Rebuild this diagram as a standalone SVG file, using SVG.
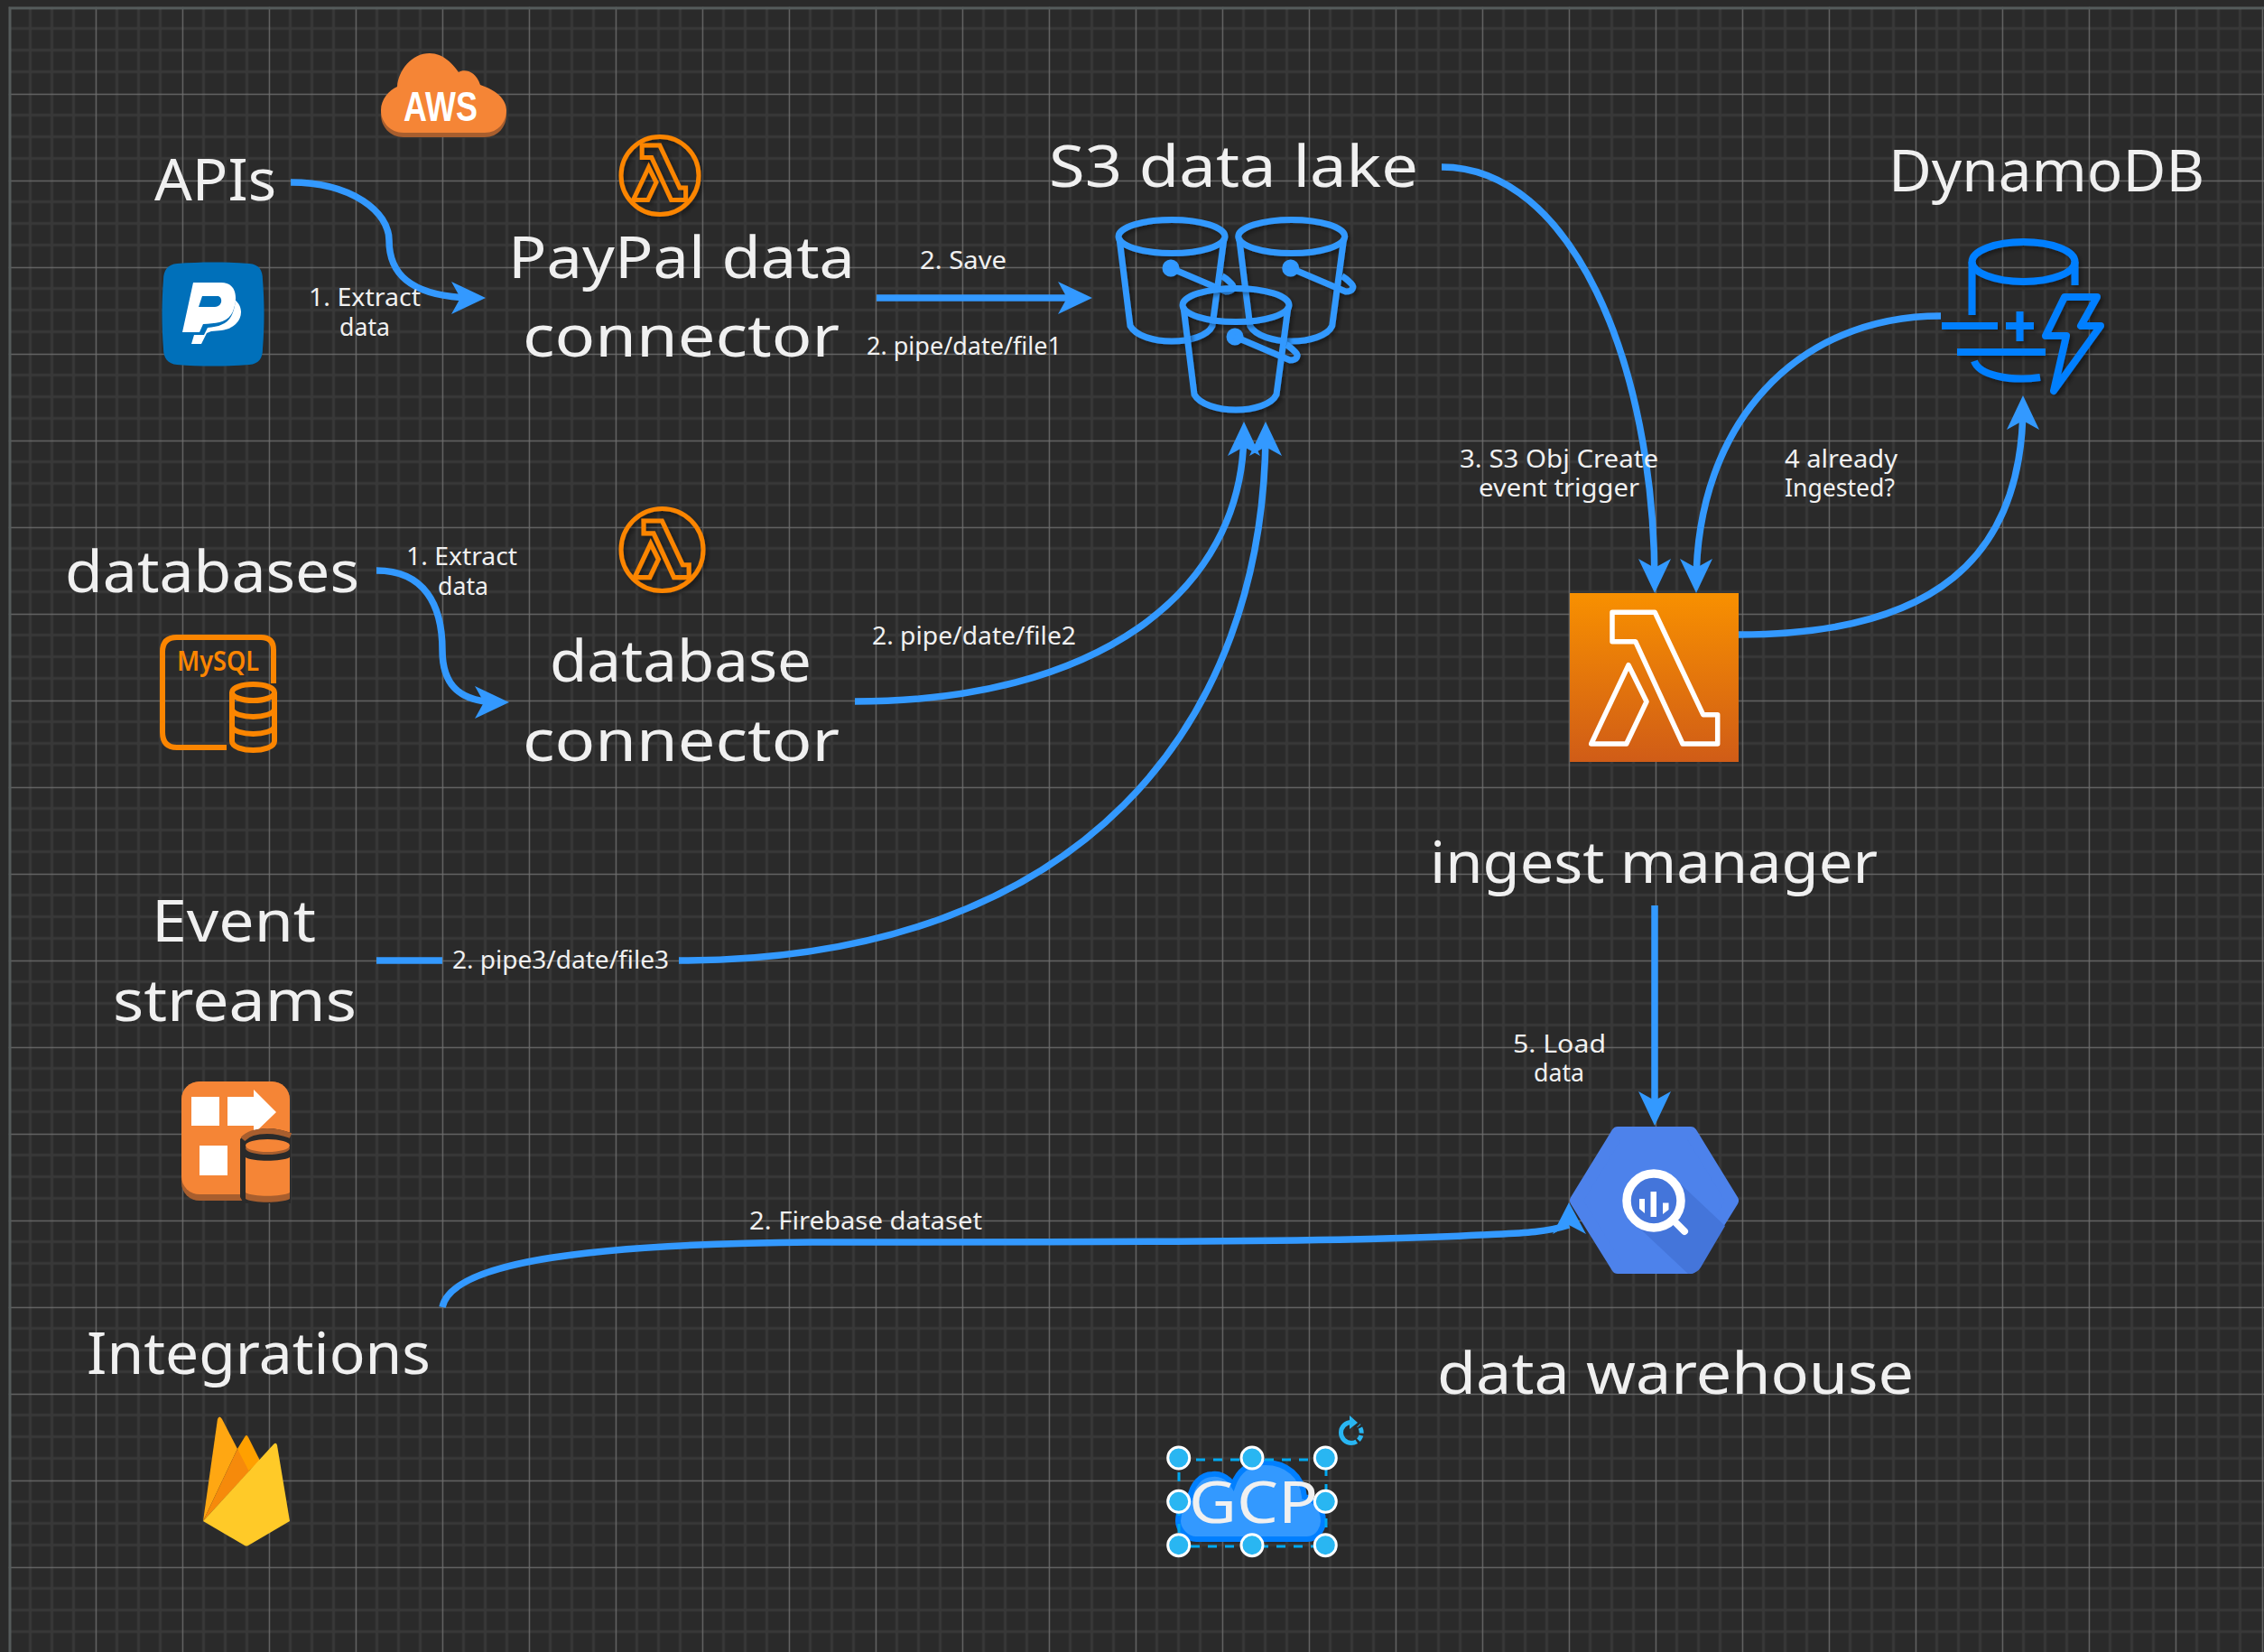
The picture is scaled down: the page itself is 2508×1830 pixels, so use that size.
<svg xmlns="http://www.w3.org/2000/svg" width="2508" height="1830" viewBox="0 0 2508 1830">
<style>
text{font-family:"Noto Sans","Open Sans",sans-serif;fill:#f0f0f0}
.big{font-size:64px}
.small{font-size:27px}
.conn{fill:none;stroke:#3399ff;stroke-width:7.5}
.end{marker-end:url(#arrow)}
.bucket{fill:none;stroke:#3399ff;stroke-width:7}
.dyn{fill:none;stroke:#007fff;stroke-width:8}
.mysql{fill:none;stroke:#fb8500;stroke-width:6}
.lam{fill:none;stroke:#fb8500;stroke-linejoin:miter}
.handle{fill:#29b6f2;stroke:#fff;stroke-width:3}
.shadow{filter:url(#sh)}
</style>
<defs>
<pattern id="grid" patternUnits="userSpaceOnUse" x="9.75" y="7.75" width="96" height="96">
<rect x="22.25" y="0" width="3" height="96" fill="#383838"/><rect x="46.25" y="0" width="3" height="96" fill="#383838"/><rect x="70.25" y="0" width="3" height="96" fill="#383838"/>
<rect x="0" y="22.25" width="96" height="3" fill="#383838"/><rect x="0" y="46.25" width="96" height="3" fill="#383838"/><rect x="0" y="70.25" width="96" height="3" fill="#383838"/>
<rect x="0" y="0" width="1.25" height="96" fill="#6e6e6e"/><rect x="0" y="0" width="96" height="1.25" fill="#6e6e6e"/>
</pattern>
<marker id="arrow" markerUnits="userSpaceOnUse" markerWidth="38" markerHeight="36" viewBox="0 0 38 36" refX="28" refY="18" orient="auto"><path d="M38 18L0 0L10 18L0 36Z" fill="#3399ff"/></marker>
<filter id="sh" x="-20%" y="-20%" width="140%" height="140%"><feDropShadow dx="3" dy="3" stdDeviation="2" flood-color="#000" flood-opacity="0.35"/></filter>
<linearGradient id="lg" x1="0" y1="0" x2="0" y2="1"><stop offset="0" stop-color="#f89000"/><stop offset="1" stop-color="#d05c17"/></linearGradient>
<path id="lambda" d="M23.3 0H70.6L124 113.4H140V145.7H101.3L49 32.4H23.3ZM41.3 58.4L61.3 99L39 145.7H0Z"/>
<g id="bucket" class="bucket">
<ellipse cx="1298" cy="262" rx="59" ry="18.5"/>
<path d="M1240 264L1252 361C1258 372 1278 378 1298 378C1318 378 1338 372 1343 361L1356 264"/>
<circle cx="1297" cy="297" r="6" fill="#3399ff"/>
<path d="M1297 297L1358 323C1366 323 1368 318 1364 314C1361 311 1356 307 1354 306"/>
</g>
</defs>
<rect width="2508" height="1830" fill="#2a2a2a"/>
<rect x="9.75" y="7.75" width="2499" height="1823" fill="url(#grid)"/>
<path d="M11 1830V9H2508" fill="none" stroke="#555b5b" stroke-width="3"/>

<g id="icon-aws">
<path transform="translate(0 5)" fill="#a85e2e" d="M447 147C432 147 422 135 422 122C422 110 431 100 440 96C441 78 456 59 476 59C491 59 502 71 508 80C514 76 527 78 532 94C550 100 561 110 561 122C561 135 552 147 537 147Z"/>
<path fill="#f58536" d="M447 147C432 147 422 135 422 122C422 110 431 100 440 96C441 78 456 59 476 59C491 59 502 71 508 80C514 76 527 78 532 94C550 100 561 110 561 122C561 135 552 147 537 147Z"/>
<text x="447" y="134" textLength="82" lengthAdjust="spacingAndGlyphs" style="font-family:'Liberation Sans',sans-serif;font-size:46px;font-weight:700;fill:#fff">AWS</text>
</g>

<g id="icon-lambda-paypal" class="shadow">
<circle cx="731" cy="194.500" r="43" fill="none" stroke="#fb8500" stroke-width="5"/>
<use href="#lambda" transform="translate(701.500 161) scale(.415)" class="lam" stroke-width="12"/>
</g>
<g id="icon-lambda-database" class="shadow">
<circle cx="733.500" cy="609" r="45.500" fill="none" stroke="#fb8500" stroke-width="5"/>
<use href="#lambda" transform="translate(703 577) scale(.43)" class="lam" stroke-width="12"/>
</g>

<g id="icon-paypal">
<path fill="#0070ba" d="M196 292C222 290 250 290 276 292C287 293 291 299 291 310C293 335 293 361 291 386C291 397 287 403 276 404C250 406 222 406 196 404C186 403 181 397 181 386C179 361 179 335 181 310C181 299 186 293 196 292Z"/>
<path fill="#fff" fill-rule="evenodd" d="M214 313H245C262 313 264 330 258 345C252 358 240 358 225 359L221 368H202ZM224 328L220 340H238C247 340 247 328 241 328Z"/>
<path fill="#fff" d="M260 332C270 340 268 352 262 358C255 366 244 366 234 367L229 369L223 381H212L215 371H226L230 363C244 362 254 358 258 346C260 340 261 336 260 332Z"/>
</g>

<g id="icon-mysql">
<path class="mysql" d="M303 757V720Q303 706 289 706H196Q180 706 180 722V811Q180 828 196 828H251"/>
<text x="196" y="743" textLength="91" lengthAdjust="spacingAndGlyphs" style="font-family:'Noto Sans',sans-serif;font-size:31px;font-weight:600;fill:#fb8500">MySQL</text>
<ellipse class="mysql" cx="280.500" cy="767" rx="23.500" ry="9"/>
<path class="mysql" d="M257 767V821C257 828 270 831 280.500 831C291 831 304 828 304 821V767M257 785C257 791 270 794 280.500 794C291 794 304 791 304 785M257 804C257 810 270 813 280.500 813C291 813 304 810 304 804"/>
</g>

<g id="icon-kinesis">
<rect x="201" y="1198" width="120" height="132" rx="20" fill="#a85e2e"/>
<rect x="201" y="1198" width="120" height="125" rx="20" fill="#f58536"/>
<rect x="212" y="1215" width="31" height="32" fill="#fff"/>
<rect x="221" y="1269" width="31" height="33" fill="#fff"/>
<path d="M252 1215H281V1207L306 1232L281 1256V1247H252Z" fill="#fff"/>
<path d="M266 1262C270 1255 285 1250 296 1250C305 1250 314 1252 322 1255V1333H270L266 1326Z" fill="#2a2a2a"/>
<path d="M269 1262C274 1256 285 1253 296 1253C305 1253 314 1255 322 1258" fill="none" stroke="#a85e2e" stroke-width="6"/>
<ellipse cx="296.500" cy="1272" rx="24.500" ry="7" fill="#a85e2e"/>
<ellipse cx="296.500" cy="1269" rx="24.500" ry="7" fill="#f58536"/>
<path d="M272 1286C280 1291 312 1291 321 1286V1328C312 1333 280 1333 272 1328Z" fill="#a85e2e"/>
<path d="M272 1282C280 1287 312 1287 321 1282V1321C312 1326 280 1326 272 1321Z" fill="#f58536"/>
</g>

<g id="icon-firebase">
<path fill="#ffa000" d="M263 1605L271 1592Q273 1588 275 1592L288 1618L270 1635Z"/>
<path fill="#ffa712" d="M225 1685L241 1572Q243 1567 246 1572L263 1605Z"/>
<path fill="#f68a0b" d="M225 1685L263 1605L276 1630Z"/>
<path fill="#ffca28" d="M225 1685L303 1600Q306 1597 307 1601L321 1685L275 1712Q273 1713 271 1712Z"/>
</g>

<g id="icon-s3">
<use href="#bucket" class="shadow"/>
<use href="#bucket" class="shadow" transform="translate(132.700 0)"/>
<use href="#bucket" class="shadow" transform="translate(71 76)"/>
</g>

<g id="icon-dynamodb" class="shadow">
<ellipse class="dyn" cx="2241.500" cy="290" rx="57" ry="22"/>
<path class="dyn" d="M2184.500 290V349M2298.500 290V316M2151 361H2213M2222 361H2253M2237.500 345V378M2168 390H2266M2187 400C2192 415 2225 423 2260 418"/>
<path class="dyn" stroke-linejoin="round" d="M2287 329H2323L2305 361H2327L2275 433L2289 372H2266Z"/>
</g>

<g id="icon-lambda-manager">
<rect x="1739" y="657" width="187" height="187" fill="url(#lg)"/>
<use href="#lambda" transform="translate(1762.700 678.300)" fill="none" stroke="#fff" stroke-width="5.500" stroke-linejoin="round"/>
</g>

<g id="icon-bigquery">
<path fill="#4d82eb" stroke="#4d82eb" stroke-width="14" stroke-linejoin="round" d="M1746 1330L1792 1255H1873L1919 1330L1873 1404H1792Z"/>
<path fill="#4475da" d="M1860 1310L1911 1358L1884 1404Q1880 1411 1870 1411L1805 1350Z"/>
<circle cx="1832" cy="1330" r="30" fill="#4475da" stroke="#fff" stroke-width="9.500"/>
<path fill="#fff" d="M1816 1328H1822V1344L1816 1339ZM1828.500 1320H1835V1348H1828.500ZM1842 1332.500H1848.500V1340L1842 1345Z"/>
<path d="M1855 1353L1866 1364" stroke="#fff" stroke-width="8" stroke-linecap="round"/>
</g>

<g id="connectors">
<path class="conn end" d="M322 202C390 202 431 235 431 266C431 300 450 330 528 330"/>
<path class="conn end" d="M971 330H1200"/>
<path class="conn end" d="M1597 185C1740 185 1833 400 1833 647"/>
<path class="conn end" d="M2150 350C1990 350 1879 470 1879 647"/>
<path class="conn end" d="M1926 703C2140 703 2241 620 2241 448"/>
<path class="conn end" d="M417 632C470 632 490 670 490 720C490 760 510 778 554 778"/>
<path class="conn end" d="M947 777C1210 777 1378 660 1378 477"/>
<path class="conn" d="M417 1064H490"/>
<path class="conn end" d="M752 1064C1200 1064 1402 800 1402 477"/>
<path class="conn" d="M490 1448C500 1400 640 1378 900 1376C1200 1376 1500 1376 1640 1368C1680 1366 1710 1366 1738 1357"/>
<path d="M1738 1332L1757 1367L1738 1357L1720 1367Z" fill="#3399ff"/>
<path class="conn end" d="M1833 1003V1237"/>
</g>

<g id="node-gcp">
<path fill="#3399ff" stroke="#007fff" stroke-width="6" d="M1325 1705H1448C1462 1705 1466 1690 1466 1685C1466 1670 1455 1660 1445 1658C1443 1635 1425 1620 1402 1620C1385 1620 1372 1628 1366 1645C1360 1635 1350 1632 1343 1633C1330 1633 1320 1645 1318 1660C1310 1665 1305 1675 1305 1685C1305 1695 1315 1705 1325 1705Z"/>
<text class="big" x="1317" y="1687" textLength="143" lengthAdjust="spacingAndGlyphs">GCP</text>
<rect x="1306" y="1617" width="163" height="96" fill="none" stroke="#00a8f0" stroke-width="3" stroke-dasharray="10 9"/>
<circle class="handle" cx="1305.700" cy="1615" r="12"/><circle class="handle" cx="1387" cy="1615" r="12"/><circle class="handle" cx="1468.300" cy="1615" r="12"/>
<circle class="handle" cx="1305.700" cy="1663.300" r="12"/><circle class="handle" cx="1468.300" cy="1663.300" r="12"/>
<circle class="handle" cx="1305.700" cy="1711.700" r="12"/><circle class="handle" cx="1387" cy="1711.700" r="12"/><circle class="handle" cx="1468.300" cy="1711.700" r="12"/>
<path d="M1497 1575.500A11.500 11.500 0 0 0 1497 1598.500" fill="none" stroke="#29b6f2" stroke-width="5"/>
<path d="M1497 1598.500A11.500 11.500 0 0 0 1505 1579" fill="none" stroke="#29b6f2" stroke-width="5" stroke-dasharray="6 2.500"/>
<path d="M1495 1568L1504 1576L1495 1583Z" fill="#29b6f2"/>
</g>

<g id="node-apis"><text class="big" x="171" y="222" textLength="135" lengthAdjust="spacingAndGlyphs">APIs</text></g>
<g id="node-paypal-connector">
<text class="big" x="563" y="308" textLength="384" lengthAdjust="spacingAndGlyphs">PayPal data</text>
<text class="big" x="579" y="395" textLength="351" lengthAdjust="spacingAndGlyphs">connector</text>
</g>
<g id="node-s3"><text class="big" x="1162" y="207" textLength="409" lengthAdjust="spacingAndGlyphs">S3 data lake</text></g>
<g id="node-dynamodb"><text class="big" x="2092" y="212" textLength="350" lengthAdjust="spacingAndGlyphs">DynamoDB</text></g>
<g id="node-databases"><text class="big" x="72" y="656" textLength="326" lengthAdjust="spacingAndGlyphs">databases</text></g>
<g id="node-database-connector">
<text class="big" x="609" y="755" textLength="290" lengthAdjust="spacingAndGlyphs">database</text>
<text class="big" x="579" y="843" textLength="351" lengthAdjust="spacingAndGlyphs">connector</text>
</g>
<g id="node-event-streams">
<text class="big" x="168" y="1043" textLength="182" lengthAdjust="spacingAndGlyphs">Event</text>
<text class="big" x="125" y="1131" textLength="270" lengthAdjust="spacingAndGlyphs">streams</text>
</g>
<g id="node-integrations"><text class="big" x="96" y="1522" textLength="381" lengthAdjust="spacingAndGlyphs">Integrations</text></g>
<g id="node-ingest-manager"><text class="big" x="1584" y="978" textLength="496" lengthAdjust="spacingAndGlyphs">ingest manager</text></g>
<g id="node-data-warehouse"><text class="big" x="1592" y="1544" textLength="528" lengthAdjust="spacingAndGlyphs">data warehouse</text></g>

<g id="connector-labels">
<text class="small" x="342" y="339" textLength="124" lengthAdjust="spacingAndGlyphs">1. Extract</text>
<text class="small" x="376" y="372" textLength="56" lengthAdjust="spacingAndGlyphs">data</text>
<text class="small" x="1019" y="298" textLength="96" lengthAdjust="spacingAndGlyphs">2. Save</text>
<text class="small" x="960" y="393" textLength="216" lengthAdjust="spacingAndGlyphs">2. pipe/date/file1</text>
<text class="small" x="450" y="626" textLength="123" lengthAdjust="spacingAndGlyphs">1. Extract</text>
<text class="small" x="485" y="659" textLength="56" lengthAdjust="spacingAndGlyphs">data</text>
<text class="small" x="966" y="714" textLength="226" lengthAdjust="spacingAndGlyphs">2. pipe/date/file2</text>
<text class="small" x="501" y="1073" textLength="240" lengthAdjust="spacingAndGlyphs">2. pipe3/date/file3</text>
<text class="small" x="830" y="1362" textLength="258" lengthAdjust="spacingAndGlyphs">2. Firebase dataset</text>
<text class="small" x="1617" y="518" textLength="220" lengthAdjust="spacingAndGlyphs">3. S3 Obj Create</text>
<text class="small" x="1638" y="550" textLength="178" lengthAdjust="spacingAndGlyphs">event trigger</text>
<text class="small" x="1977" y="518" textLength="125" lengthAdjust="spacingAndGlyphs">4 already</text>
<text class="small" x="1977" y="550" textLength="122" lengthAdjust="spacingAndGlyphs">Ingested?</text>
<text class="small" x="1676" y="1166" textLength="103" lengthAdjust="spacingAndGlyphs">5. Load</text>
<text class="small" x="1699" y="1198" textLength="56" lengthAdjust="spacingAndGlyphs">data</text>
</g>
</svg>
